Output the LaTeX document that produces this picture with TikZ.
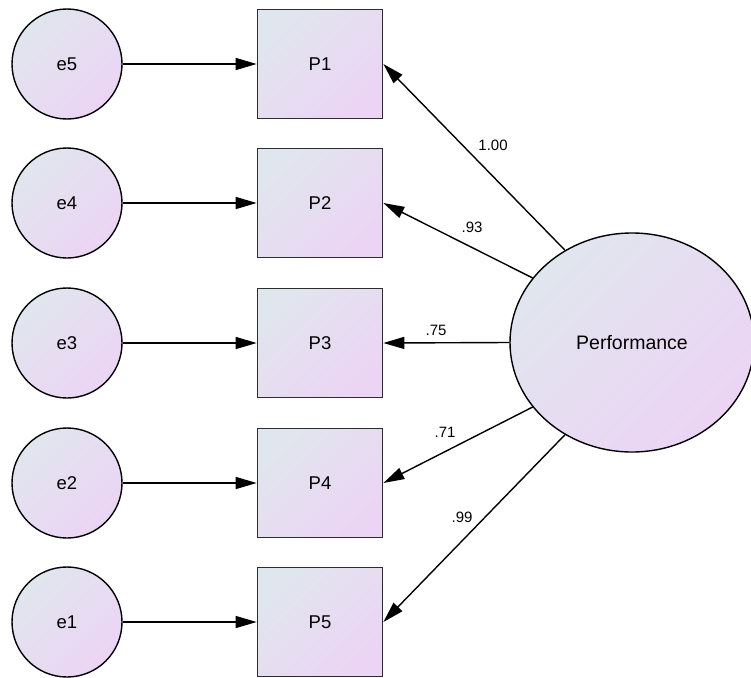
\documentclass[tikz,border=0pt]{standalone}
\usepackage{fontspec}
\setmainfont{Liberation Sans}
\usetikzlibrary{arrows.meta,shapes.geometric}
\definecolor{ca}{RGB}{224,230,238}
\definecolor{cb}{RGB}{236,212,244}
\definecolor{boxline}{RGB}{45,45,45}
\tikzset{
  grad/.style={top color=ca, bottom color=cb, shading angle=45},
  errc/.style={circle, draw=black, line width=1.4pt, grad, minimum size=110pt, inner sep=0pt, font=\fontsize{18.5}{20}\selectfont},
  obs/.style={rectangle, draw=boxline, line width=1.7pt, grad, minimum width=125pt, minimum height=109pt, inner sep=0pt, font=\fontsize{18.5}{20}\selectfont},
  lat/.style={ellipse, draw=black, line width=1.4pt, grad, minimum width=244pt, minimum height=219pt, inner sep=0pt, font=\fontsize{19.5}{22}\selectfont},
  arr/.style={line width=1.4pt, -{Triangle[length=21pt,width=12pt]}},
  wlab/.style={font=\fontsize{15}{17}\selectfont, inner sep=0pt}
}
\begin{document}
\begin{tikzpicture}[x=1pt,y=-1pt]
\useasboundingbox (0,0) rectangle (751,677);
\node[errc] (e5) at (67,64) {e5};
\node[errc] (e4) at (67,203) {e4};
\node[errc] (e3) at (67,343) {e3};
\node[errc] (e2) at (67,483) {e2};
\node[errc] (e1) at (67,622) {e1};
\node[obs] (p1) at (320,64) {P1};
\node[obs] (p2) at (320,203) {P2};
\node[obs] (p3) at (320,343) {P3};
\node[obs] (p4) at (320,483) {P4};
\node[obs] (p5) at (320,622) {P5};
\node[lat] (perf) at (632,342.5) {Performance};
\foreach \i/\j in {e5/p1,e4/p2,e3/p3,e2/p4,e1/p5}
  \draw[arr] (\i) -- (\j);
\draw[arr] (perf.126) -- (p1.east);
\draw[arr] (perf.147) -- (p2.east);
\draw[arr] (perf.west) -- (p3.east);
\draw[arr] (perf.213) -- (p4.east);
\draw[arr] (perf.234) -- (p5.east);
\node[wlab] (l1) at (493,145) {1.00};
\node[wlab] (l2) at (472,227) {.93};
\node[wlab] (l3) at (436,330) {.75};
\node[wlab] (l4) at (445,432) {.71};
\node[wlab] (l5) at (462,517) {.99};
\end{tikzpicture}
\end{document}
